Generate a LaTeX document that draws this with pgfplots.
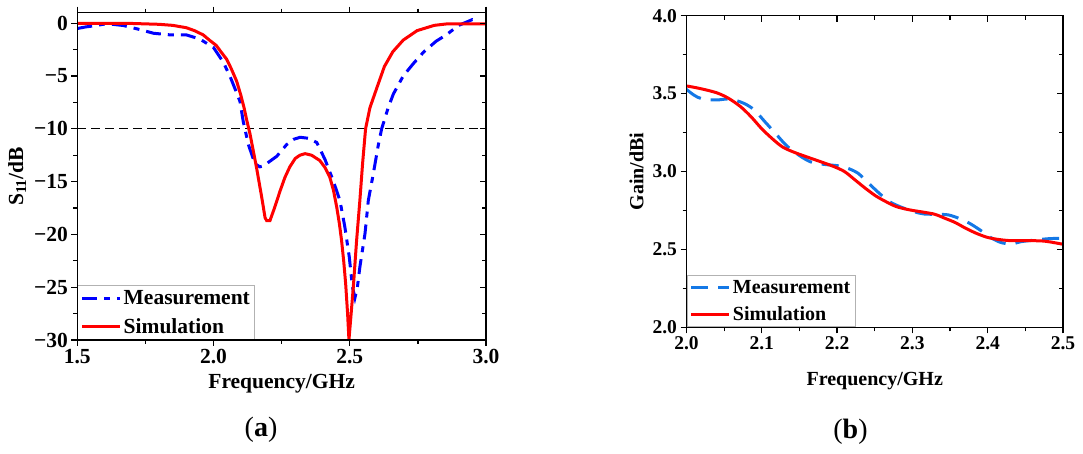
\documentclass[border=0pt]{standalone}
\usepackage{pgfplots}
\pgfplotsset{compat=1.18}
\usepackage{fontspec}
\setmainfont{Liberation Serif}
\definecolor{measA}{RGB}{0,0,255}
\definecolor{measB}{RGB}{20,120,230}
\definecolor{simR}{RGB}{255,0,0}
\pgfplotsset{
  frame/.style={scale only axis, anchor=south west,
    axis line style={line width=1.5pt, black},
    every tick/.style={black, line width=1.3pt},
    major tick length=6pt, minor tick length=4pt},
  lgd/.style={legend cell align=left,
    legend style={at={(0,0)}, anchor=south west, draw=gray!60, line width=0.8pt,
      font=\bfseries\fontsize{#1}{#1}\selectfont, inner sep=3pt, row sep=8pt},
    legend image code/.code={\draw[##1] (0pt,0pt) -- (38pt,0pt);}},
}
\begin{document}
\begin{tikzpicture}
\useasboundingbox (0pt,0pt) rectangle (1083pt,454pt);
% ---------------- panel (a) ----------------
\begin{axis}[frame, at={(77.3pt,114pt)}, width=408.7pt, height=327.3pt,
  xmin=1.5, xmax=3.0, ymin=-30, ymax=1,
  xtick={1.5,2.0,2.5,3.0}, xticklabels={1.5,2.0,2.5,3.0}, minor x tick num=1,
  ytick={-30,-25,-20,-15,-10,-5,0}, yticklabels={−30,−25,−20,−15,−10,−5,0}, minor y tick num=1,
  tick pos=left, tick align=outside,
  ticklabel style={font=\bfseries\fontsize{21.5pt}{24pt}\selectfont},
  xlabel={Frequency/GHz}, xlabel style={at={(axis description cs:0.5,-0.134)}, anchor=center, font=\bfseries\fontsize{21.5pt}{24pt}\selectfont},
  ylabel={S\textsubscript{\fontsize{15pt}{15pt}\selectfont 11}/dB}, ylabel style={at={(axis description cs:-0.147,0.5)}, anchor=center, font=\bfseries\fontsize{21.5pt}{24pt}\selectfont},
  lgd=21.5pt]
\addplot[black, line width=1.3pt, dash pattern=on 9pt off 5pt, forget plot] coordinates {(1.5,-10) (3.0,-10)};
\addplot[measA, line width=3pt, dash pattern=on 15pt off 7pt on 6pt off 7pt] coordinates {
(1.5,-0.5)(1.53,-0.35)(1.56,-0.25)(1.6,-0.08)(1.63,-0.1)(1.67,-0.22)(1.73,-0.6)(1.78,-0.95)(1.84,-1.1)(1.9,-1.1)(1.95,-1.5)(2.0,-2.3)(2.036,-3.7)(2.06,-5.0)(2.085,-6.6)(2.097,-7.4)(2.109,-9.3)(2.128,-11.5)(2.152,-13.3)(2.17,-13.6)(2.185,-13.5)(2.2,-13.2)(2.232,-12.6)(2.268,-11.5)(2.293,-11.0)(2.318,-10.8)(2.35,-10.9)(2.379,-11.3)(2.409,-12.9)(2.439,-14.9)(2.464,-16.8)(2.482,-19.3)(2.498,-22.1)(2.51,-25)(2.519,-26)(2.528,-25)(2.537,-23.1)(2.556,-19.9)(2.568,-16.8)(2.586,-14.3)(2.605,-11.5)(2.617,-10)(2.641,-8.0)(2.66,-6.7)(2.696,-5.0)(2.734,-3.8)(2.772,-2.7)(2.817,-1.7)(2.854,-1.1)(2.9,-0.2)(2.95,0.35)(2.96,0.3)};
\addlegendentry{Measurement}
\addplot[simR, line width=3pt] coordinates {
(1.5,0)(1.6,0)(1.7,-0.02)(1.8,-0.1)(1.85,-0.2)(1.9,-0.42)(1.93,-0.7)(1.962,-1.1)(1.985,-1.6)(2.01,-2.1)(2.03,-2.8)(2.048,-3.4)(2.065,-4.3)(2.085,-5.5)(2.1,-6.8)(2.112,-8.0)(2.122,-9.2)(2.134,-10.5)(2.146,-12.1)(2.158,-13.7)(2.177,-16.5)(2.189,-18.4)(2.195,-18.7)(2.207,-18.7)(2.225,-17.4)(2.244,-15.9)(2.262,-14.6)(2.28,-13.6)(2.3,-12.8)(2.317,-12.5)(2.336,-12.35)(2.36,-12.5)(2.39,-13.0)(2.41,-13.7)(2.427,-14.6)(2.44,-15.8)(2.452,-17.4)(2.462,-19.0)(2.47,-20.6)(2.478,-22.6)(2.485,-24.7)(2.492,-27.5)(2.497,-30)(2.505,-27.5)(2.513,-25)(2.519,-22.8)(2.525,-20.6)(2.537,-16.8)(2.547,-13.3)(2.558,-10)(2.574,-8.0)(2.601,-6.0)(2.627,-4.1)(2.658,-2.7)(2.696,-1.6)(2.747,-0.7)(2.81,-0.2)(2.86,-0.05)(3.0,-0.05)};
\addlegendentry{Simulation}
\end{axis}
\begin{axis}[frame, at={(77.3pt,114pt)}, width=408.7pt, height=327.3pt,
  xmin=1.5, xmax=3.0, ymin=-30, ymax=1,
  xtick={1.5,2.0,2.5,3.0}, xticklabels={}, minor x tick num=1,
  ytick=\empty, tick pos=right, tick align=outside]
\end{axis}
\begin{axis}[frame, at={(77.3pt,114pt)}, width=408.7pt, height=327.3pt,
  xmin=1.5, xmax=3.0, ymin=-30, ymax=1,
  xtick=\empty,
  ytick={-30,-25,-20,-15,-10,-5,0}, yticklabels={}, minor y tick num=1,
  tick pos=right, tick align=inside]
\end{axis}
% ---------------- panel (b) ----------------
\begin{axis}[frame, at={(686.5pt,126.7pt)}, width=376.5pt, height=311.6pt,
  xmin=2.0, xmax=2.5, ymin=2.0, ymax=4.0,
  xtick={2.0,2.1,2.2,2.3,2.4,2.5}, xticklabels={2.0,2.1,2.2,2.3,2.4,2.5}, minor x tick num=1,
  ytick={2.0,2.5,3.0,3.5,4.0}, yticklabels={2.0,2.5,3.0,3.5,4.0}, minor y tick num=1,
  tick pos=left, tick align=outside,
  ticklabel style={font=\bfseries\fontsize{19.5pt}{22pt}\selectfont},
  xlabel={Frequency/GHz}, xlabel style={at={(axis description cs:0.5,-0.174)}, anchor=center, font=\bfseries\fontsize{20pt}{23pt}\selectfont},
  ylabel={Gain/dBi}, ylabel style={at={(axis description cs:-0.1326,0.5)}, anchor=center, font=\bfseries\fontsize{20pt}{23pt}\selectfont},
  lgd=20pt]
\addplot[measB, line width=3pt, dash pattern=on 17pt off 10pt, smooth] coordinates {
(2.0,3.527)(2.0097,3.491)(2.0212,3.465)(2.0396,3.459)(2.058,3.465)(2.0764,3.437)(2.090,3.395)(2.104,3.320)(2.118,3.245)(2.132,3.170)(2.1455,3.117)(2.164,3.063)(2.182,3.046)(2.2007,3.037)(2.2145,3.020)(2.228,2.988)(2.242,2.924)(2.256,2.860)(2.2698,2.806)(2.2836,2.774)(2.302,2.742)(2.316,2.727)(2.3343,2.725)(2.348,2.721)(2.362,2.699)(2.376,2.667)(2.390,2.624)(2.4033,2.578)(2.417,2.545)(2.431,2.535)(2.4448,2.550)(2.463,2.560)(2.4816,2.569)(2.5,2.571)};
\addlegendentry{Measurement}
\addplot[simR, line width=3pt, smooth] coordinates {
(2.0,3.549)(2.0166,3.534)(2.0396,3.506)(2.0557,3.470)(2.0718,3.416)(2.0856,3.352)(2.0994,3.277)(2.1133,3.213)(2.127,3.159)(2.141,3.127)(2.159,3.095)(2.178,3.063)(2.196,3.031)(2.210,2.999)(2.224,2.945)(2.2376,2.892)(2.2514,2.843)(2.265,2.806)(2.279,2.774)(2.297,2.753)(2.316,2.738)(2.330,2.725)(2.3435,2.699)(2.357,2.672)(2.371,2.635)(2.385,2.603)(2.399,2.578)(2.4125,2.565)(2.431,2.556)(2.4586,2.556)(2.477,2.552)(2.5,2.533)};
\addlegendentry{Simulation}
\end{axis}
\begin{axis}[frame, at={(686.5pt,126.7pt)}, width=376.5pt, height=311.6pt,
  xmin=2.0, xmax=2.5, ymin=2.0, ymax=4.0,
  xtick={2.0,2.1,2.2,2.3,2.4,2.5}, xticklabels={}, minor x tick num=1,
  ytick={2.0,2.5,3.0,3.5,4.0}, yticklabels={}, minor y tick num=1,
  tick pos=right, tick align=inside]
\end{axis}
% captions
\node[font=\fontsize{28pt}{32pt}\selectfont] at (261pt,24.3pt) {(\textbf{a})};
\node[font=\fontsize{28pt}{32pt}\selectfont] at (850.5pt,22.4pt) {(\textbf{b})};
\end{tikzpicture}
\end{document}
